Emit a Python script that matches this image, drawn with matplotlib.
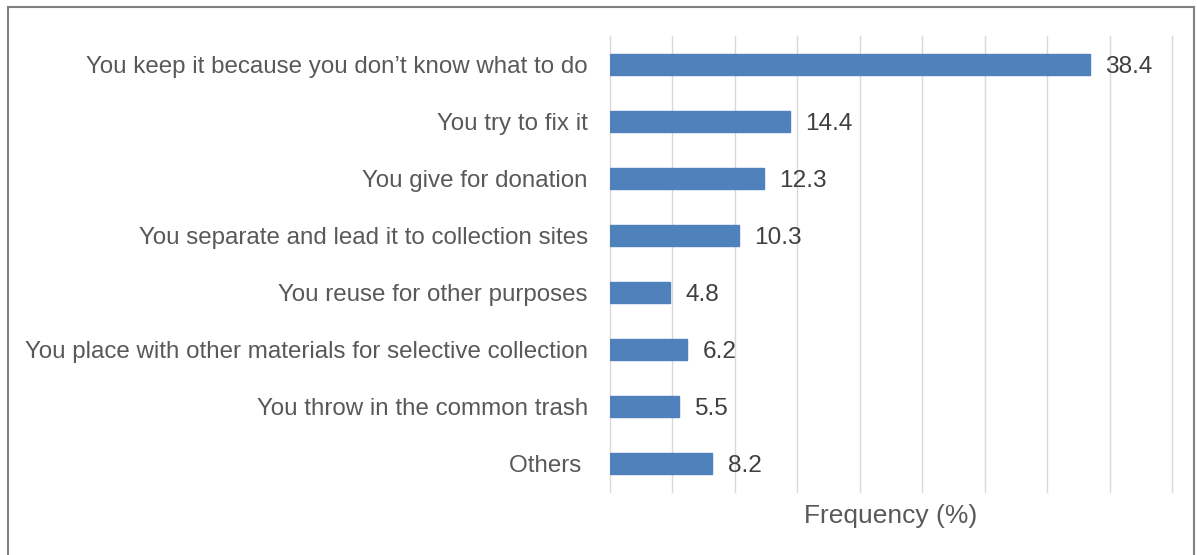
import matplotlib.pyplot as plt
from matplotlib.patches import Rectangle

# data, top to bottom as in the chart
labels = ["You keep it because you don\u2019t know what to do",
          "You try to fix it",
          "You give for donation",
          "You separate and lead it to collection sites",
          "You reuse for other purposes",
          "You place with other materials for selective collection",
          "You throw in the common trash",
          "Others "]
values = [38.4, 14.4, 12.3, 10.3, 4.8, 6.2, 5.5, 8.2]

plt.rcParams['font.family'] = ['Liberation Sans', 'DejaVu Sans']

fig = plt.figure(figsize=(11.97, 5.55), dpi=100)
ax = fig.add_axes([610/1197, 63/555, 562/1197, 456/555])

y = list(range(len(labels)))
ax.barh(y, values, height=0.36, color='#4F81BD', edgecolor='#4F81BD', zorder=3)

ax.set_xlim(0, 45)
ax.set_ylim(len(labels) - 0.5, -0.5)
ax.set_xticks(range(0, 46, 5))
ax.set_xticklabels([])
ax.tick_params(axis='x', length=0)
ax.grid(axis='x', color='#D9D9D9', linewidth=1, zorder=0)
for gl in ax.get_xgridlines():
    gl.set_clip_on(False)

ax.set_yticks(y)
ax.set_yticklabels(labels, fontsize=17.4, color='#595959')
ax.tick_params(axis='y', length=0, pad=16)

for s in ax.spines.values():
    s.set_visible(False)

# value labels
for yi, v in zip(y, values):
    ax.text(v + 1.25, yi, f"{v}", va='center_baseline', ha='left',
            fontsize=17.6, color='#404040')

ax.set_xlabel("Frequency (%)", fontsize=19, color='#595959', labelpad=5)

# outer frame
fig.add_artist(Rectangle((8/1197, -0.01), 1186/1197, 1 - 7/555 + 0.01,
                         transform=fig.transFigure, fill=False,
                         edgecolor='#808080', linewidth=1.5))

fig.savefig("out.png", dpi=100)
